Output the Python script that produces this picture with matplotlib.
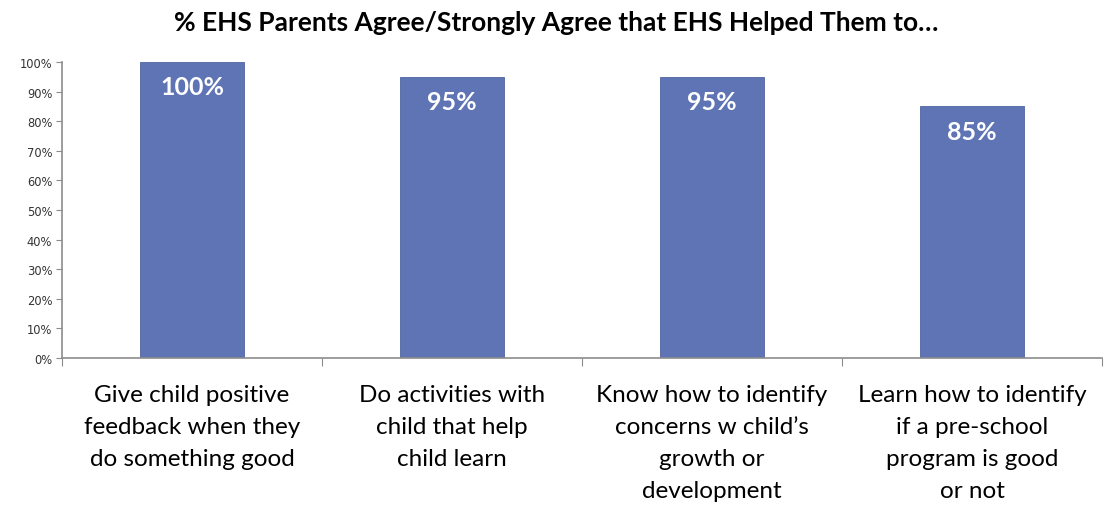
import matplotlib
matplotlib.use("Agg")
import matplotlib.pyplot as plt
from matplotlib.ticker import PercentFormatter

# data
categories = [
    "Give child positive\nfeedback when they\ndo something good",
    "Do activities with\nchild that help\nchild learn",
    "Know how to identify\nconcerns w child\u2019s\ngrowth or\ndevelopment",
    "Learn how to identify\nif a pre-school\nprogram is good\nor not",
]
values = [100, 95, 95, 85]
value_labels = ["100%", "95%", "95%", "85%"]
yticks = list(range(0, 101, 10))

title = "% EHS Parents Agree/Strongly Agree that EHS Helped Them to\u2026"

bar_color = "#5f74b4"
axis_color = "#8c8c8c"
font = ["Lato", "DejaVu Sans"]

plt.rcParams["font.family"] = font

fig = plt.figure(figsize=(11.06, 5.10), dpi=100)
ax = fig.add_axes([0.056, 0.296, 0.9404, 0.5805])

x = list(range(len(categories)))
bars = ax.bar(x, values, width=0.4, color=bar_color, edgecolor="#4f64a0", linewidth=0.6, zorder=2)

for b, lab in zip(bars, value_labels):
    ax.text(b.get_x() + b.get_width() / 2, b.get_height() - 4.5, lab,
            ha="center", va="top", color="white", fontsize=18, fontweight="bold")

ax.set_xlim(-0.5, len(categories) - 0.5)
ax.set_ylim(0, 100)
ax.set_yticks(yticks)
ax.yaxis.set_major_formatter(PercentFormatter(decimals=0))
ax.tick_params(axis="y", length=4, color=axis_color, pad=3)
for t in ax.get_yticklabels():
    t.set_family("DejaVu Sans")
    t.set_fontsize(8.3)
    t.set_color("#333333")

# category boundaries as x ticks, labels centred underneath
ax.set_xticks([i - 0.5 for i in range(len(categories) + 1)])
ax.set_xticklabels([])
ax.tick_params(axis="x", length=6, color=axis_color)
for i, lab in enumerate(categories):
    ax.text(i, -8.8, lab, ha="center", va="top", fontsize=17.5, linespacing=1.64,
            transform=ax.transData, clip_on=False)

for side in ["top", "right"]:
    ax.spines[side].set_visible(False)
for side in ["left", "bottom"]:
    ax.spines[side].set_color(axis_color)
    ax.spines[side].set_linewidth(1.2)

fig.text(0.503, 0.955, title, ha="center", va="center", fontsize=19, fontweight="bold")

fig.savefig("out.png", dpi=100)
